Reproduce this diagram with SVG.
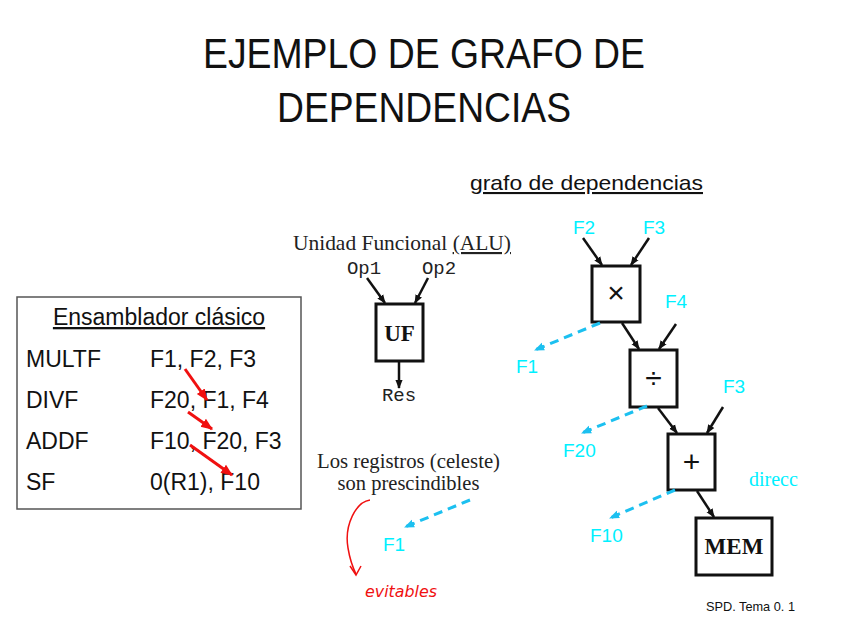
<svg xmlns="http://www.w3.org/2000/svg" width="848" height="636" viewBox="0 0 848 636">
<defs>
<style>
.title{font-family:"Liberation Sans",Arial,sans-serif;font-size:42px;fill:#111}
.sans{font-family:"Liberation Sans",Arial,sans-serif;fill:#111}
.serif{font-family:"Liberation Serif","Times New Roman",serif;fill:#222}
.mono{font-family:"Liberation Mono","Courier New",monospace;fill:#222;font-size:19px}
.cyan{font-family:"Liberation Sans",Arial,sans-serif;fill:#00f0ff;font-size:19px}
.box{fill:#fff;stroke:#111;stroke-width:3}
.arr{stroke:#111;stroke-width:2.5;fill:none;marker-end:url(#ah)}
.dash{stroke:#1cc0f0;stroke-width:3;fill:none;stroke-dasharray:9 6;marker-end:url(#ahc)}
.red{stroke:#f01010;stroke-width:3;fill:none;marker-end:url(#ahr)}
</style>
<marker id="ah" viewBox="0 0 10 10" refX="9" refY="5" markerWidth="9" markerHeight="9" markerUnits="userSpaceOnUse" orient="auto"><path d="M0,1 L10,5 L0,9 z" fill="#111"/></marker>
<marker id="ahc" viewBox="0 0 10 10" refX="9" refY="5" markerWidth="10" markerHeight="10" markerUnits="userSpaceOnUse" orient="auto"><path d="M0,1 L10,5 L0,9 z" fill="#1cc0f0"/></marker>
<marker id="ahr" viewBox="0 0 10 10" refX="9" refY="5" markerWidth="12" markerHeight="12" markerUnits="userSpaceOnUse" orient="auto"><path d="M0,1 L10,5 L0,9 z" fill="#f01010"/></marker>
</defs>
<rect width="848" height="636" fill="#fff"/>

<g id="title">
<text class="title" x="203" y="68" textLength="442" lengthAdjust="spacingAndGlyphs">EJEMPLO DE GRAFO DE</text>
<text class="title" x="277" y="122" textLength="294" lengthAdjust="spacingAndGlyphs">DEPENDENCIAS</text>
</g>

<g id="ensamblador">
<rect x="17" y="297" width="284" height="212" fill="#fff" stroke="#555" stroke-width="1.5"/>
<text class="sans" x="159" y="325" font-size="23" text-anchor="middle" text-decoration="underline">Ensamblador clásico</text>
<g class="sans" font-size="23">
<text x="26" y="367">MULTF</text><text x="150" y="367">F1, F2, F3</text>
<text x="26" y="408">DIVF</text><text x="150" y="408">F20, F1, F4</text>
<text x="26" y="449">ADDF</text><text x="150" y="449">F10, F20, F3</text>
<text x="26" y="490">SF</text><text x="150" y="490">0(R1), F10</text>
</g>
</g>

<g id="uf">
<text class="serif" x="402" y="250" font-size="21.5" text-anchor="middle" textLength="218" lengthAdjust="spacingAndGlyphs">Unidad Funcional <tspan text-decoration="underline">(ALU)</tspan></text>
<text class="mono" x="364" y="274" text-anchor="middle">Op1</text>
<text class="mono" x="439" y="274" text-anchor="middle">Op2</text>
<rect class="box" x="376" y="304" width="47" height="57"/>
<text class="serif" x="399.5" y="341" font-size="23" font-weight="bold" text-anchor="middle" style="fill:#111">UF</text>
<text class="mono" x="399" y="401" text-anchor="middle">Res</text>
</g>

<g id="graph-label">
<text class="sans" x="470" y="190" font-size="21" textLength="233" lengthAdjust="spacingAndGlyphs" text-decoration="underline">grafo de dependencias</text>
</g>

<g id="node-mul">
<rect class="box" x="592" y="266" width="48" height="56"/>
<text class="sans" x="616" y="303" font-size="30" text-anchor="middle">×</text>
</g>
<g id="node-div">
<rect class="box" x="630" y="350" width="47" height="57"/>
<text class="sans" x="653.5" y="388" font-size="30" text-anchor="middle">÷</text>
</g>
<g id="node-add">
<rect class="box" x="668" y="434" width="47" height="56"/>
<text class="sans" x="691.5" y="472" font-size="30" text-anchor="middle">+</text>
</g>
<g id="node-mem">
<rect class="box" x="696" y="518" width="76" height="57"/>
<text class="serif" x="734" y="554" font-size="23" font-weight="bold" text-anchor="middle" style="fill:#111">MEM</text>
</g>

<g id="labels">
<text class="cyan" x="573" y="234">F2</text>
<text class="cyan" x="643" y="234">F3</text>
<text class="cyan" x="665" y="308">F4</text>
<text class="cyan" x="516" y="373">F1</text>
<text class="cyan" x="723" y="393">F3</text>
<text class="cyan" x="563" y="457">F20</text>
<text class="cyan" x="590" y="542">F10</text>
<text x="749" y="486" font-family="'Liberation Serif','Times New Roman',serif" font-size="20" fill="#00f0ff">direcc</text>
<text class="serif" x="408.5" y="468" font-size="20.5" text-anchor="middle" textLength="183" lengthAdjust="spacingAndGlyphs">Los registros (celeste)</text>
<text class="serif" x="408.5" y="490" font-size="20.5" text-anchor="middle">son prescindibles</text>
<text class="cyan" x="383" y="551">F1</text>
<text x="365" y="597" font-family="'DejaVu Sans',sans-serif" font-style="italic" font-size="16" fill="#f01010" textLength="72" lengthAdjust="spacingAndGlyphs">evitables</text>
<text class="sans" x="706" y="611" font-size="13" textLength="89" lengthAdjust="spacingAndGlyphs">SPD.  Tema 0.  1</text>
</g>

<g id="connectors">
<line class="arr" x1="367" y1="278" x2="385" y2="303"/>
<line class="arr" x1="428" y1="278" x2="415" y2="303"/>
<line class="arr" x1="399" y1="362" x2="399" y2="388"/>
<line class="arr" x1="583" y1="238" x2="602" y2="265"/>
<line class="arr" x1="649" y1="238" x2="631" y2="265"/>
<line class="arr" x1="622" y1="323" x2="639" y2="349"/>
<line class="arr" x1="676" y1="324" x2="659" y2="349"/>
<line class="arr" x1="658" y1="408" x2="677" y2="433"/>
<line class="arr" x1="723" y1="407" x2="707" y2="433"/>
<line class="arr" x1="697" y1="491" x2="714" y2="517"/>
<line class="dash" x1="600" y1="323" x2="535" y2="350"/>
<line class="dash" x1="647" y1="406" x2="582" y2="433"/>
<line class="dash" x1="675" y1="490" x2="610" y2="518"/>
<line class="dash" x1="470" y1="500" x2="405" y2="527"/>
<line class="red" x1="185" y1="369" x2="207" y2="400"/>
<line class="red" x1="188" y1="412" x2="212" y2="429"/>
<line class="red" x1="190" y1="445" x2="232" y2="475"/>
<path d="M370,500 C356,502 344,525 348,548 C350,560 352,566 356,574" stroke="#f01010" stroke-width="1.5" fill="none"/>
<path d="M350,566 L356,575 L361,566" stroke="#f01010" stroke-width="1.5" fill="none"/>
</g>
</svg>
